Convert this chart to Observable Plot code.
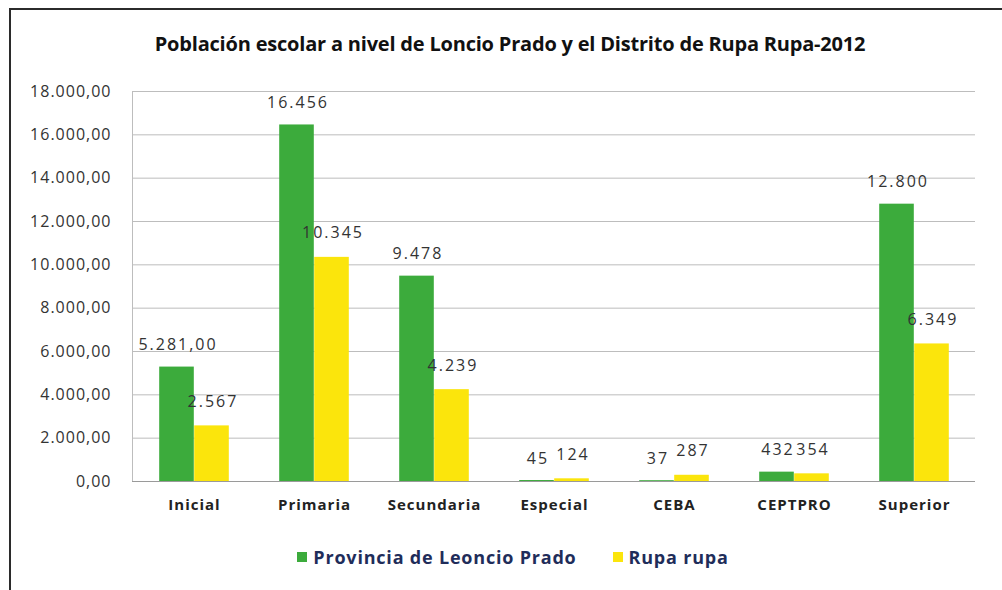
<!DOCTYPE html>
<html>
<head>
<meta charset="utf-8">
<script src="https://cdn.jsdelivr.net/npm/d3@7"></script>
<script src="https://cdn.jsdelivr.net/npm/@observablehq/plot@0.6"></script>
<style>
  html, body { margin: 0; padding: 0; background: #fff; overflow: hidden; }
  #wrap { position: relative; width: 1002px; height: 590px; font-family: "Open Sans", sans-serif; }
  #border { position: absolute; left: 9px; top: 8px; width: 1010px; height: 600px; border: 2px solid #2b2b2b; box-sizing: border-box; }
  #title { position: absolute; left: 0; top: 30px; width: 1020px; text-align: center; font-weight: bold; font-size: 20px; color: #111; letter-spacing: -0.2px; }
  #chart { position: absolute; left: 0; top: 75px; }
  #legend { position: absolute; left: 0; top: 545px; width: 1026px; text-align: center; font-weight: bold; font-size: 18px; color: #1f2d5a; letter-spacing: 0.8px; }
  #legend span.item { margin: 0 18px; }
  #legend span.sw { display: inline-block; width: 10px; height: 10px; margin-right: 6px; vertical-align: 2px; }
  #chart g[aria-label="text"] text { letter-spacing: 2px; }
  #chart g[aria-label="y-axis tick label"] text { letter-spacing: 1px; }
  #chart g[aria-label="x-axis tick label"] text { letter-spacing: 1px; }
</style>
</head>
<body>
<div id="wrap">
  <div id="border"></div>
  <div id="title">Población escolar a nivel de Loncio Prado y el Distrito de Rupa Rupa-2012</div>
  <div id="chart"></div>
  <div id="legend"></div>
</div>
<script>
const categories = ["Inicial", "Primaria", "Secundaria", "Especial", "CEBA", "CEPTPRO", "Superior"];
const seriesNames = ["Provincia de Leoncio Prado", "Rupa rupa"];
const seriesColors = ["#3cab3c", "#fbe50c"];
const provinciaValues = [5281, 16456, 9478, 45, 37, 432, 12800];
const rupaValues = [2567, 10345, 4239, 124, 287, 354, 6349];
const provinciaLabels = ["5.281,00", "16.456", "9.478", "45", "37", "432", "12.800"];
const rupaLabels = ["2.567", "10.345", "4.239", "124", "287", "354", "6.349"];
const yTicks = [0, 2000, 4000, 6000, 8000, 10000, 12000, 14000, 16000, 18000];

const esLocale = d3.formatLocale({decimal: ",", thousands: ".", grouping: [3], currency: ["", ""]});
const fmtTick = esLocale.format(",.2f");

const prov = categories.map((c, i) => ({cat: c, value: provinciaValues[i], label: provinciaLabels[i]}));
const rupa = categories.map((c, i) => ({cat: c, value: rupaValues[i], label: rupaLabels[i]}));

const barW = 35;
const chart = Plot.plot({
  width: 1002,
  height: 450,
  marginTop: 16,
  marginBottom: 44,
  marginLeft: 132,
  marginRight: 27,
  style: {fontFamily: "Open Sans, sans-serif", background: "transparent"},
  x: {domain: categories, paddingInner: 0, paddingOuter: 0, label: null},
  y: {domain: [0, 18000], label: null},
  marks: [
    Plot.ruleY(yTicks, {stroke: "#bdbdbd", strokeWidth: 1}),
    Plot.frame({anchor: "left", stroke: "#bdbdbd"}),
    Plot.barY(prov, {x: "cat", y: "value", fill: seriesColors[0], insetLeft: 25.2, insetRight: 60.2}),
    Plot.barY(rupa, {x: "cat", y: "value", fill: seriesColors[1], insetLeft: 60.2, insetRight: 25.2}),
    Plot.text(prov, {x: "cat", y: "value", text: "label", dx: -barW / 2 + 1, dy: -22, fontSize: 16, fill: "#333"}),
    Plot.text(rupa, {x: "cat", y: "value", text: "label", dx: barW / 2 + 1, dy: -24, fontSize: 16, fill: "#333"}),
    Plot.axisY({ticks: yTicks, tickFormat: fmtTick, tickSize: 0, tickPadding: 21, fontSize: 16, fill: "#333"}),
    Plot.axisX({tickSize: 0, tickPadding: 18, fontSize: 15, fontWeight: "bold", fill: "#222", label: null}),
    Plot.ruleY([0], {stroke: "#9a9a9a"})
  ]
});
document.getElementById("chart").appendChild(chart);

const legend = document.getElementById("legend");
seriesNames.forEach((name, i) => {
  const item = document.createElement("span");
  item.className = "item";
  const sw = document.createElement("span");
  sw.className = "sw";
  sw.style.background = seriesColors[i];
  item.appendChild(sw);
  item.appendChild(document.createTextNode(name));
  legend.appendChild(item);
});
</script>
</body>
</html>
